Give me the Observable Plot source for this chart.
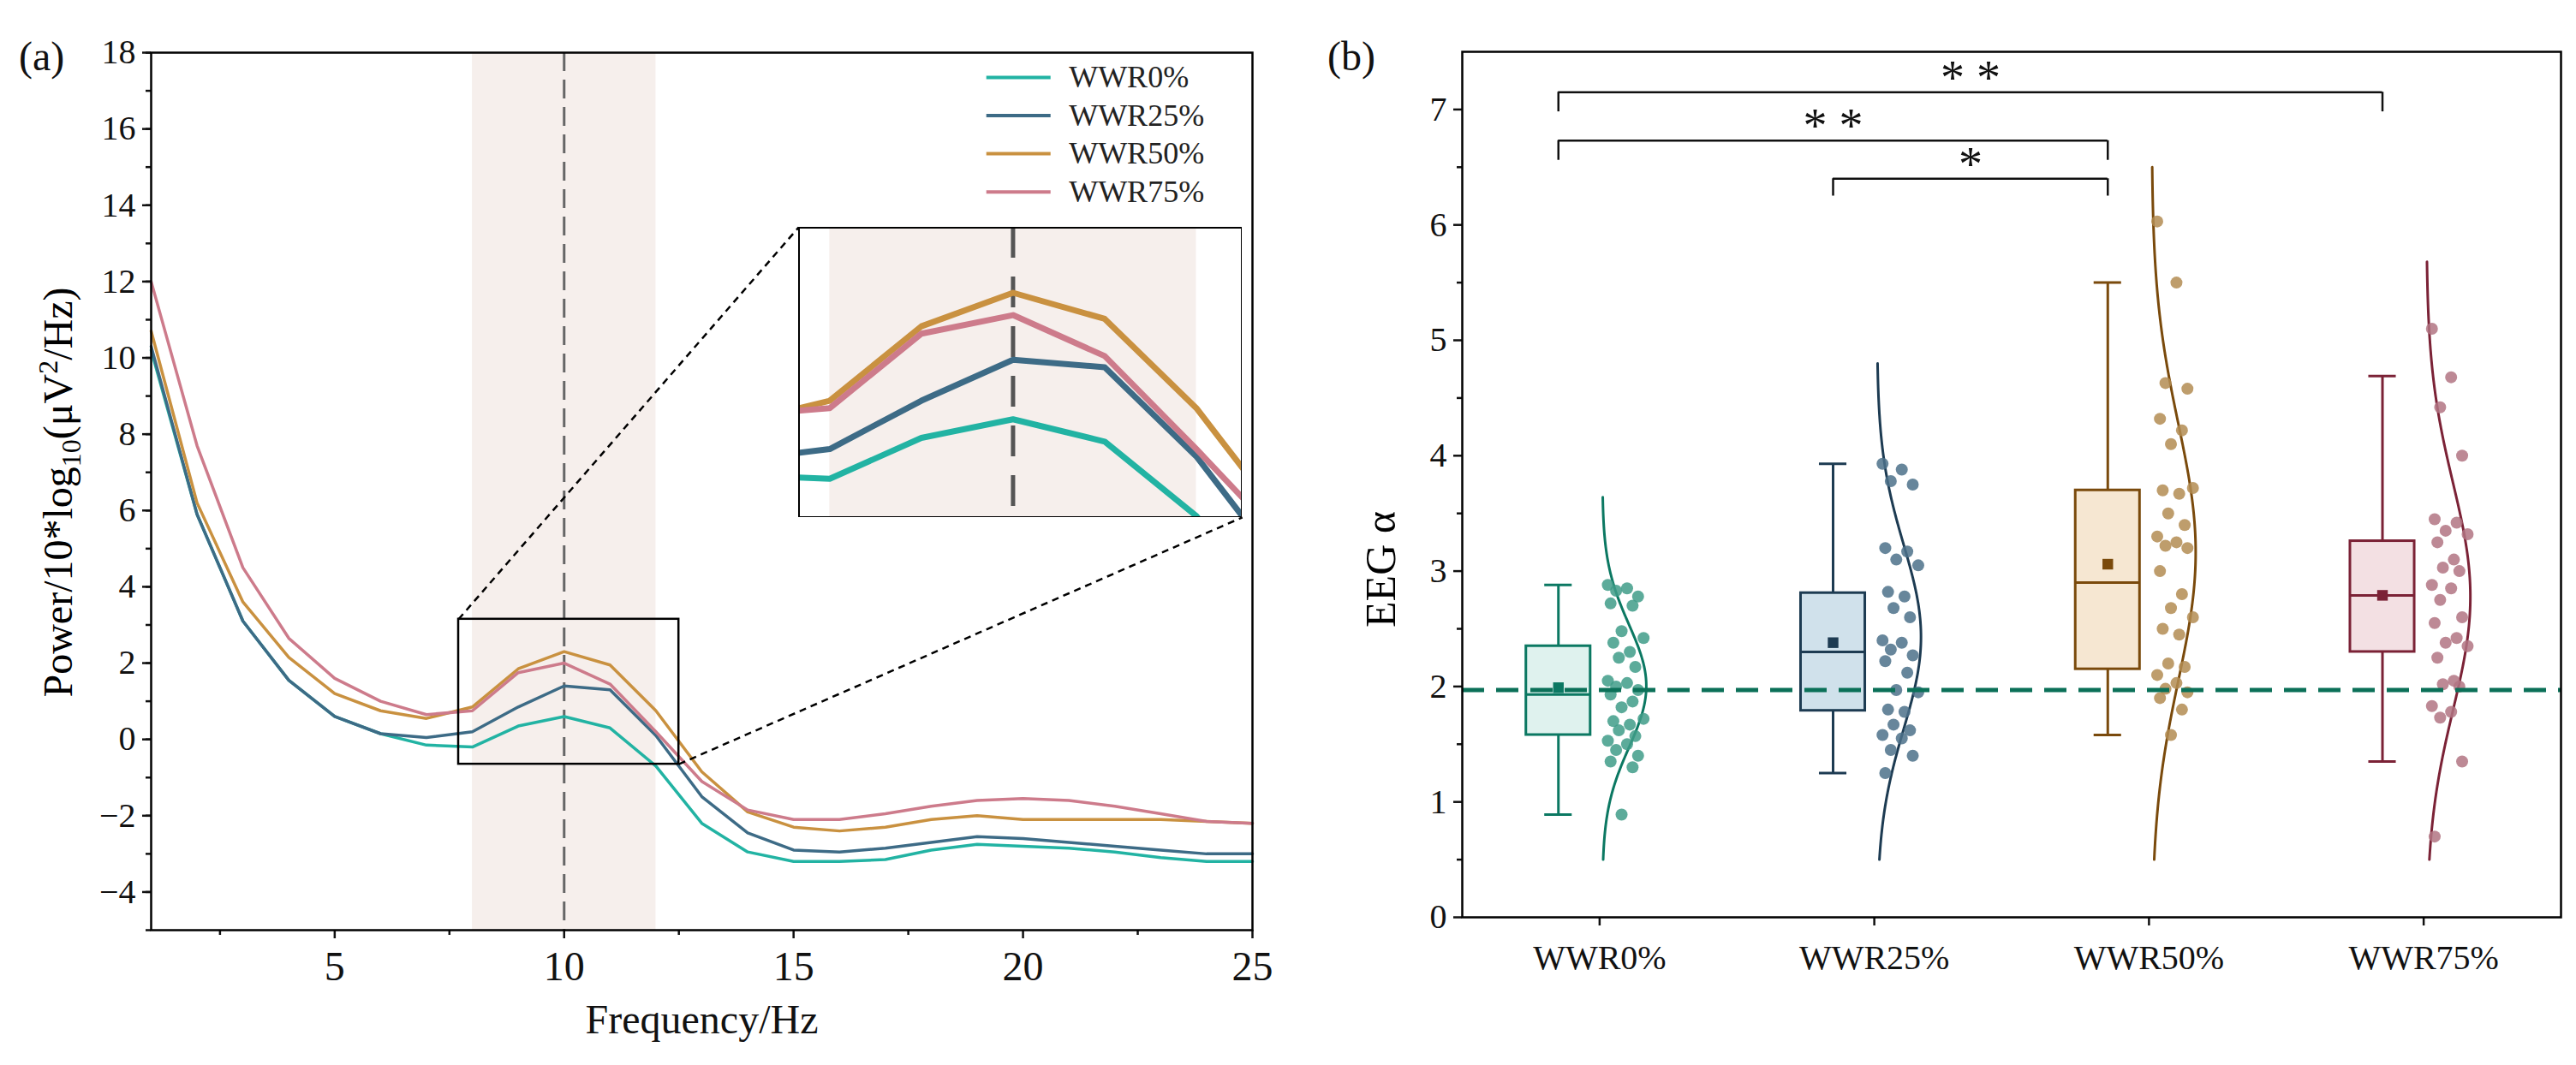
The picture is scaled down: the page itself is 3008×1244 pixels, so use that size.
<!DOCTYPE html>
<html><head><meta charset="utf-8">
<script src="https://cdn.jsdelivr.net/npm/d3@7"></script>
<script src="https://cdn.jsdelivr.net/npm/@observablehq/plot@0.6"></script>
<style>
body{margin:0;width:3008px;height:1244px;background:#fff;position:relative;overflow:hidden;font-family:"Liberation Serif",serif;}
.abs{position:absolute;}
.lbl{font-size:48px;color:#111;}
</style></head><body>
<script>
// ---------- Panel (a) data ----------
const freq = d3.range(1, 26);
const seriesNames = ["WWR0%", "WWR25%", "WWR50%", "WWR75%"];
const lineColors = ["#22b3a3", "#3d6b86", "#c99140", "#cd7b8b"];
const wwr0  = [10.2,5.9,3.1,1.55,0.6,0.15,-0.15,-0.2,0.35,0.6,0.3,-0.7,-2.2,-2.95,-3.2,-3.2,-3.15,-2.9,-2.75,-2.8,-2.85,-2.95,-3.1,-3.2,-3.2];
const wwr25 = [10.3,5.9,3.1,1.55,0.6,0.15,0.05,0.2,0.85,1.4,1.3,0.1,-1.5,-2.45,-2.9,-2.95,-2.85,-2.7,-2.55,-2.6,-2.7,-2.8,-2.9,-3.0,-3.0];
const wwr50 = [10.7,6.2,3.6,2.15,1.2,0.75,0.55,0.85,1.85,2.3,1.95,0.75,-0.85,-1.9,-2.3,-2.4,-2.3,-2.1,-2.0,-2.1,-2.1,-2.1,-2.1,-2.15,-2.2];
const wwr75 = [12.0,7.7,4.5,2.65,1.6,1.0,0.65,0.75,1.75,2.0,1.45,0.2,-1.1,-1.85,-2.1,-2.1,-1.95,-1.75,-1.6,-1.55,-1.6,-1.75,-1.95,-2.15,-2.2];
const powerSeries = [wwr0, wwr25, wwr50, wwr75];
const xTicksA = [5, 10, 15, 20, 25];
const yTicksA = [-4, -2, 0, 2, 4, 6, 8, 10, 12, 14, 16, 18];
const alphaBand = [8, 12];
const peakFreq = 10;
const zoomBox = {x1: 7.7, x2: 12.5, y1: -0.65, y2: 3.15};
const insetBox = {x1: 15.11, x2: 24.78, y1: 5.82, y2: 13.42};

// ---------- Panel (b) data ----------
const groups = ["WWR0%", "WWR25%", "WWR50%", "WWR75%"];
const yTicksB = [0, 1, 2, 3, 4, 5, 6, 7];
const boxStroke = ["#0b7862", "#1d3b52", "#7a4a0c", "#7b2236"];
const boxFill = ["#dff2ee", "#d0e1eb", "#f6e7d2", "#f3e0e3"];
const dotFill = ["#3f9c88", "#4c7189", "#b38c52", "#b27482"];
const whiskLo = [0.89, 1.25, 1.58, 1.35];
const q1 = [1.58, 1.79, 2.15, 2.30];
const median = [1.93, 2.30, 2.90, 2.79];
const q3 = [2.35, 2.81, 3.70, 3.26];
const whiskHi = [2.88, 3.93, 5.50, 4.69];
const means = [1.99, 2.38, 3.06, 2.79];
const curveTop = [3.65, 4.80, 6.50, 5.68];
const pts0 = [2.88,2.85,2.83,2.78,2.72,2.7,2.48,2.42,2.38,2.3,2.25,2.17,2.05,2.03,2.0,1.97,1.93,1.87,1.82,1.72,1.7,1.67,1.62,1.57,1.53,1.5,1.45,1.4,1.35,1.3,0.89];
const pts25 = [3.93,3.88,3.78,3.75,3.2,3.17,3.1,3.05,2.82,2.78,2.68,2.6,2.4,2.38,2.32,2.27,2.22,2.12,1.97,1.95,1.8,1.78,1.67,1.62,1.58,1.55,1.45,1.4,1.25];
const pts50 = [6.03,5.5,4.63,4.58,4.32,4.22,4.1,3.72,3.7,3.67,3.5,3.4,3.3,3.25,3.22,3.2,3.0,2.8,2.68,2.6,2.5,2.45,2.2,2.17,2.1,2.03,1.98,1.95,1.9,1.8,1.58];
const pts75 = [5.1,4.68,4.42,4.0,3.45,3.42,3.35,3.32,3.25,3.1,3.03,3.0,2.88,2.85,2.75,2.6,2.55,2.42,2.38,2.35,2.25,2.05,2.02,2.0,1.83,1.78,1.73,1.35,0.7];
const points = [pts0, pts25, pts50, pts75];
const jitter = [0.02,0.09,0.05,0.13,0.03,0.11,0.07,0.15,0.04,0.1,0.06,0.12];
const refLine = 1.97;
const brackets = [
  {a: 0, b: 3, y: 7.15, drop: 0.17, label: "* *"},
  {a: 0, b: 2, y: 6.73, drop: 0.17, label: "* *"},
  {a: 1, b: 2, y: 6.40, drop: 0.15, label: "*"}
];

const lineData = powerSeries.flatMap((s, k) => s.map((v, i) => ({f: freq[i], v, name: seriesNames[k]})));
const FONT = "Liberation Serif";
const tickFmt = d => d < 0 ? "\u2212" + Math.abs(d) : String(d);

// ---------- Panel (a) ----------
const left = Plot.plot({
  width: 1500, height: 1244,
  marginLeft: 176, marginRight: 38, marginTop: 61, marginBottom: 158,
  style: {fontFamily: FONT, fontSize: "40px", color: "#111", background: "transparent"},
  x: {domain: [1, 25]},
  y: {domain: [-5, 18]},
  color: {domain: seriesNames, range: lineColors},
  marks: [
    Plot.rectX([alphaBand], {x1: d => d[0], x2: d => d[1], y1: -5, y2: 18, fill: "#f6efec"}),
    Plot.ruleX([peakFreq], {stroke: "#666", strokeWidth: 3, strokeDasharray: "22,10"}),
    Plot.line(lineData, {x: "f", y: "v", stroke: "name", strokeWidth: 3.5}),
    Plot.rect([zoomBox], {x1: "x1", x2: "x2", y1: "y1", y2: "y2", stroke: "#000", strokeWidth: 2.5, fill: "none"}),
    Plot.link([{x1: zoomBox.x1, y1: zoomBox.y2, x2: insetBox.x1, y2: insetBox.y2},
               {x1: zoomBox.x2, y1: zoomBox.y1, x2: insetBox.x2, y2: insetBox.y1}],
      {x1: "x1", y1: "y1", x2: "x2", y2: "y2", stroke: "#000", strokeWidth: 2.5, strokeDasharray: "8,6"}),
    Plot.rect([insetBox], {x1: "x1", x2: "x2", y1: "y1", y2: "y2", fill: "#fff"}),
    Plot.axisX(xTicksA, {tickSize: 10, tickPadding: 14, strokeWidth: 2.5, label: "Frequency/Hz", labelAnchor: "center", labelOffset: 120, labelArrow: false, fontSize: 48}),
    Plot.axisX(d3.range(2.5, 25, 5), {tickSize: 6, text: null, strokeWidth: 2.5, label: null}),
    Plot.axisY(yTicksA, {tickSize: 10, tickPadding: 8, strokeWidth: 2.5, tickFormat: tickFmt, label: null}),
    Plot.axisY(d3.range(-5, 19, 1), {tickSize: 6, text: null, strokeWidth: 2.5, label: null}),
    Plot.link(seriesNames, {x1: 19.2, x2: 20.6, y1: (d, i) => 17.35 - i * 1.0, y2: (d, i) => 17.35 - i * 1.0, stroke: (d, i) => lineColors[i], strokeWidth: 4}),
    Plot.text(seriesNames, {x: 21.0, y: (d, i) => 17.35 - i * 1.0, text: d => d, textAnchor: "start", fontSize: 36, fill: "#222"}),
    Plot.frame({stroke: "#000", strokeWidth: 2.5})
  ]
});
left.classList.add("abs"); left.style.left = "0px"; left.style.top = "0px";
document.body.appendChild(left);

// inset
const inset = Plot.plot({
  width: 518, height: 339, margin: 0,
  style: {background: "#fff"},
  x: {domain: [7.66, 12.5], axis: null},
  y: {domain: [-0.72, 3.18], axis: null},
  color: {domain: seriesNames, range: lineColors},
  marks: [
    Plot.rectX([alphaBand], {x1: d => d[0], x2: d => d[1], y1: -0.72, y2: 3.18, fill: "#f6efec"}),
    Plot.ruleX([peakFreq], {stroke: "#555", strokeWidth: 5, strokeDasharray: "36,22"}),
    Plot.line(lineData, {x: "f", y: "v", stroke: "name", strokeWidth: 7, clip: true}),
    Plot.frame({stroke: "#000", strokeWidth: 3})
  ]
});
inset.classList.add("abs"); inset.style.left = "932px"; inset.style.top = "265px";
document.body.appendChild(inset);

// ---------- Panel (b) ----------
const boxes = groups.map((g, i) => ({i, g, lo: whiskLo[i], q1: q1[i], med: median[i], q3: q3[i], hi: whiskHi[i], mean: means[i]}));
const dotData = points.flatMap((arr, i) => arr.map((v, j) => ({i, v, x: i + 0.01 + jitter[j % jitter.length]})));
const curveData = points.flatMap((arr, i) => {
  const m = d3.mean(arr), s = d3.deviation(arr);
  return d3.range(0.5, curveTop[i] + 0.001, 0.02).map(y => ({i, y, x: i + 0.01 + 0.16 * Math.exp(-0.5 * ((y - m) / s) ** 2)}));
});
const bw = 0.117, off = -0.15, cap = 0.05;
const right = Plot.plot({
  width: 1508, height: 1244,
  marginLeft: 207, marginRight: 18, marginTop: 60, marginBottom: 173,
  style: {fontFamily: FONT, fontSize: "40px", color: "#111", background: "transparent"},
  x: {domain: [-0.5, 3.5]},
  y: {domain: [0, 7.5]},
  marks: [
    Plot.axisX([0, 1, 2, 3], {tickFormat: i => groups[i], tickSize: 10, tickPadding: 22, strokeWidth: 2.5, label: null}),
    Plot.axisY(yTicksB, {tickSize: 10, tickPadding: 8, strokeWidth: 2.5, tickFormat: d => String(d), label: null}),
    Plot.axisY(d3.range(0.5, 7.5, 1), {tickSize: 6, text: null, strokeWidth: 2.5, label: null}),
    Plot.line(curveData, {x: "x", y: "y", z: "i", stroke: d => boxStroke[d.i], strokeWidth: 3, curve: "basis"}),
    Plot.dot(dotData, {x: "x", y: "v", r: 7, fill: d => dotFill[d.i], fillOpacity: 0.85, stroke: "none"}),
    Plot.ruleX(boxes, {x: d => d.i + off, y1: "lo", y2: "q1", stroke: d => boxStroke[d.i], strokeWidth: 3}),
    Plot.ruleX(boxes, {x: d => d.i + off, y1: "q3", y2: "hi", stroke: d => boxStroke[d.i], strokeWidth: 3}),
    Plot.ruleY(boxes, {y: "lo", x1: d => d.i + off - cap, x2: d => d.i + off + cap, stroke: d => boxStroke[d.i], strokeWidth: 3}),
    Plot.ruleY(boxes, {y: "hi", x1: d => d.i + off - cap, x2: d => d.i + off + cap, stroke: d => boxStroke[d.i], strokeWidth: 3}),
    Plot.rect(boxes, {x1: d => d.i + off - bw, x2: d => d.i + off + bw, y1: "q1", y2: "q3", fill: d => boxFill[d.i], stroke: d => boxStroke[d.i], strokeWidth: 3}),
    Plot.ruleY(boxes, {y: "med", x1: d => d.i + off - bw, x2: d => d.i + off + bw, stroke: d => boxStroke[d.i], strokeWidth: 3}),
    Plot.dot(boxes, {x: d => d.i + off, y: "mean", symbol: "square", r: 7, fill: d => boxStroke[d.i]}),
    Plot.ruleY([refLine], {stroke: "#0b7058", strokeWidth: 5, strokeDasharray: "26,14"}),
    Plot.ruleY(brackets, {y: "y", x1: d => d.a + off, x2: d => d.b + off, stroke: "#111", strokeWidth: 2.5}),
    Plot.ruleX(brackets, {x: d => d.a + off, y1: d => d.y - d.drop, y2: "y", stroke: "#111", strokeWidth: 2.5}),
    Plot.ruleX(brackets, {x: d => d.b + off, y1: d => d.y - d.drop, y2: "y", stroke: "#111", strokeWidth: 2.5}),
    Plot.text(brackets, {x: d => (d.a + d.b) / 2 + off, y: "y", text: "label", dy: 2, lineAnchor: "bottom", fontSize: 56, fill: "#111"}),
    Plot.frame({stroke: "#000", strokeWidth: 2.5})
  ]
});
right.classList.add("abs"); right.style.left = "1500px"; right.style.top = "0px";
document.body.appendChild(right);
</script>
<div class="abs lbl" style="left:22px;top:38px;">(a)</div>
<div class="abs lbl" style="left:1550px;top:38px;">(b)</div>
<div class="abs" style="left:70px;top:575px;transform:translate(-50%,-50%) rotate(-90deg);font-size:48px;white-space:nowrap;">Power/10*log<sub style="font-size:32px">10</sub>(μV<sup style="font-size:32px">2</sup>/Hz)</div>
<div class="abs" style="left:1612px;top:665px;transform:translate(-50%,-50%) rotate(-90deg);font-size:50px;white-space:nowrap;">EEG α</div>
</body></html>
